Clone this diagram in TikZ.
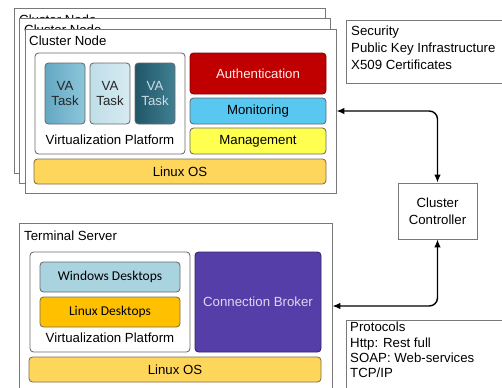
\documentclass[tikz,border=0pt]{standalone}
\usepackage{fontspec}
\setmainfont{Liberation Sans}
\newfontfamily\deskfont{Carlito}
\usetikzlibrary{arrows.meta, fit}

\definecolor{frameGray}{RGB}{120,120,120}
\definecolor{boxGray}{RGB}{105,105,105}
\definecolor{authRed}{RGB}{192,0,0}
\definecolor{monBlue}{RGB}{88,200,240}
\definecolor{mgmtYellow}{RGB}{255,255,80}
\definecolor{osGold}{RGB}{255,214,92}
\definecolor{osEdge}{RGB}{125,110,70}
\definecolor{winBlue}{RGB}{170,211,224}
\definecolor{linOrange}{RGB}{255,192,0}
\definecolor{brokerPurple}{RGB}{86,62,168}

\tikzset{
  frame/.style={draw=frameGray, fill=white, line width=0.8pt, inner sep=0pt},
  title/.style={anchor=base west, inner sep=0pt},
  layer/.style={draw=boxGray, line width=0.7pt, rounded corners=3pt, inner sep=0pt},
  desk/.style={font=\deskfont\fontsize{11.5}{13.5}\selectfont},
  multi/.style={align=center, font=\fontsize{11.3}{14.5}\selectfont},
  tasktext/.style={align=center, font=\fontsize{11.3}{13}\selectfont},
  link/.style={{Latex[length=2.4mm,width=2mm]}-{Latex[length=2.4mm,width=2mm]}, line width=1.2pt, rounded corners=7pt}
}

\begin{document}
\begin{tikzpicture}[x=0.03cm, y=-0.03cm, font=\fontsize{11.3}{13.5}\selectfont]
    \useasboundingbox (0,0) rectangle (502,387);
    \clip (0,0) rectangle (502,387);
    % stacked cluster nodes
    \node[frame, fit={(14,8) (325,173)}] (stack1) {};
    \node[title] (stacklabel1) at (19,24) {Cluster Node};
    \node[frame, fit={(19.5,18) (330,183)}] (stack2) {};
    \node[title] (stacklabel2) at (24,34) {Cluster Node};
    \node[frame, fit={(25,29) (336,193)}] (cluster) {};
    \node[title] (clusterlabel) at (29,45) {Cluster Node};
    % virtualization platform with tasks
    \node[layer, fill=white, fit={(35,53) (185,154)}] (vplat1) {};
    \node[layer, left color={rgb,255:red,100;green,168;blue,195}, right color={rgb,255:red,140;green,198;blue,218}, fit={(45,63) (85,124)}] (task1) {};
    \node[tasktext, text=black!85] (task1label) at (task1) {VA\\Task};
    \node[layer, left color={rgb,255:red,192;green,222;blue,233}, right color={rgb,255:red,214;green,234;blue,241}, fit={(90,63) (130,124)}] (task2) {};
    \node[tasktext, text=black!85] (task2label) at (task2) {VA\\Task};
    \node[layer, left color={rgb,255:red,32;green,86;blue,104}, right color={rgb,255:red,64;green,128;blue,146}, fit={(135,63) (175,124)}] (task3) {};
    \node[tasktext, text={rgb,255:red,205;green,220;blue,225}] (task3label) at (task3) {VA\\Task};
    \node (vplatlabel1) at (110,140) {Virtualization Platform};
    % services
    \node[layer, draw=authRed!70!black, fill=authRed, fit={(190,53) (326,94)}] (auth) {};
    \node[text=white!92!red] (authlabel) at (auth) {Authentication};
    \node[layer, fill=monBlue, fit={(190,98) (326,124)}] (mon) {};
    \node (monlabel) at (mon) {Monitoring};
    \node[layer, fill=mgmtYellow, fit={(190,128) (326,154)}] (mgmt) {};
    \node (mgmtlabel) at (mgmt) {Management};
    \node[layer, draw=osEdge, fill=osGold, fit={(34,159) (326,184)}] (os1) {};
    \node (os1label) at (os1) {Linux OS};

    % terminal server
    \node[frame, fit={(19,223) (332,389)}] (terminal) {};
    \node[title] (terminallabel) at (24,240) {Terminal Server};
    \node[layer, fill=white, fit={(30,252) (190,352)}] (vplat2) {};
    \node[layer, fill=winBlue, fit={(40,262) (180,292)}] (win) {};
    \node[desk] (winlabel) at (win) {Windows Desktops};
    \node[layer, draw=osEdge, fill=linOrange, fit={(40,297) (180,327)}] (lin) {};
    \node[desk] (linlabel) at (lin) {Linux Desktops};
    \node (vplatlabel2) at (110,338) {Virtualization Platform};
    \node[layer, draw=brokerPurple!60!black, fill=brokerPurple, fit={(195,252) (321,352)}] (broker) {};
    \node[text={rgb,255:red,222;green,214;blue,240}] (brokerlabel) at (broker) {Connection Broker};
    \node[layer, draw=osEdge, fill=osGold, fit={(29,357) (321,382)}] (os2) {};
    \node (os2label) at (os2) {Linux OS};

    % notes
    \node[frame, fit={(346,20) (510,83)}] (security) {};
    \node[anchor=north west, inner sep=0pt, align=left, font=\fontsize{11.3}{14.2}\selectfont] (securitytext) at (351,26) {Security\\Public Key Infrastructure\\X509 Certificates};
    \node[frame, fit={(346,320) (510,400)}] (protocols) {};
    \node[anchor=north west, inner sep=0pt, align=left, font=\fontsize{11.3}{13}\selectfont] (protocolstext) at (350,322) {Protocols\\Http: Rest full\\SOAP: Web-services\\TCP/IP};

    % controller and links
    \node[frame, fit={(398,183) (477,239)}] (ctrl) {};
    \node[multi] (ctrllabel) at (ctrl) {Cluster\\Controller};
    \draw[link] (ctrl.north) |- (cluster.east);
    \draw[link] (ctrl.south) |- (terminal.east);
\end{tikzpicture}
\end{document}
